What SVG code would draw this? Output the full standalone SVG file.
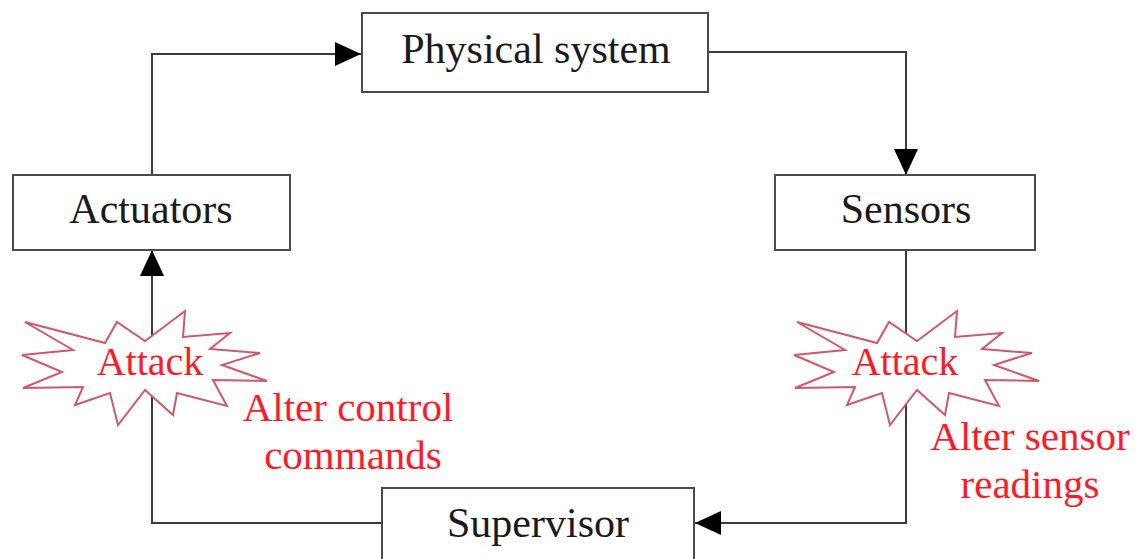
<svg xmlns="http://www.w3.org/2000/svg" width="1135" height="559" viewBox="0 0 1135 559">
<defs>
<style>
.box{fill:#fff;stroke:#4a4a4f;stroke-width:2}
.lbl{font-family:"Liberation Serif","Times New Roman",serif;font-size:42px;fill:#1a1a1a;text-anchor:middle}
.red{font-family:"Liberation Serif","Times New Roman",serif;font-size:41px;fill:#ff1a2a;text-anchor:middle}
.atk{font-size:40px}
.conn{fill:none;stroke:#3a3a3a;stroke-width:2}
.burst{fill:#fff;stroke:#cc5a6a;stroke-width:2;stroke-linejoin:miter}
</style>
<marker id="arr" viewBox="0 0 26 24" refX="26" refY="12" markerWidth="26" markerHeight="24" markerUnits="userSpaceOnUse" orient="auto">
<path d="M0,0 L26,12 L0,24 Z" fill="#000"/>
</marker>
<polygon id="star" points="25,322 105,343 117,322 145,341 185,311 183,337 230,333 210,349 260,353 222,365 267,381 213,380 227,406 177,393 173,415 145,390 118,425 110,393 75,405 83,387 23,388 62,372 22,355 73,350"/>
</defs>
<g id="connectors">
<polyline class="conn" points="152,175 152,54 361,54" marker-end="url(#arr)"/>
<polyline class="conn" points="709,52 906,52 906,175" marker-end="url(#arr)"/>
<polyline class="conn" points="906,250 906,523 695,523" marker-end="url(#arr)"/>
<polyline class="conn" points="382,523 152,523 152,250" marker-end="url(#arr)"/>
</g>
<g id="physical-system">
<rect class="box" x="362" y="13" width="346" height="79"/>
<text class="lbl" x="536" y="63">Physical system</text>
</g>
<g id="actuators">
<rect class="box" x="13" y="175" width="277" height="75"/>
<text class="lbl" x="151" y="223">Actuators</text>
</g>
<g id="sensors">
<rect class="box" x="775" y="175" width="260" height="75"/>
<text class="lbl" x="906" y="223">Sensors</text>
</g>
<g id="supervisor">
<rect class="box" x="382" y="488" width="312" height="80"/>
<text class="lbl" x="538" y="537">Supervisor</text>
</g>
<g id="attack-left">
<use href="#star" class="burst"/>
<text class="red atk" x="150" y="375">Attack</text>
</g>
<g id="attack-right">
<use href="#star" class="burst" transform="translate(772,0)"/>
<text class="red atk" x="905" y="375">Attack</text>
</g>
<g id="label-left">
<text class="red" x="348" y="421">Alter control</text>
<text class="red" x="353" y="469">commands</text>
</g>
<g id="label-right">
<text class="red" x="1030" y="450">Alter sensor</text>
<text class="red" x="1030" y="498">readings</text>
</g>
</svg>
